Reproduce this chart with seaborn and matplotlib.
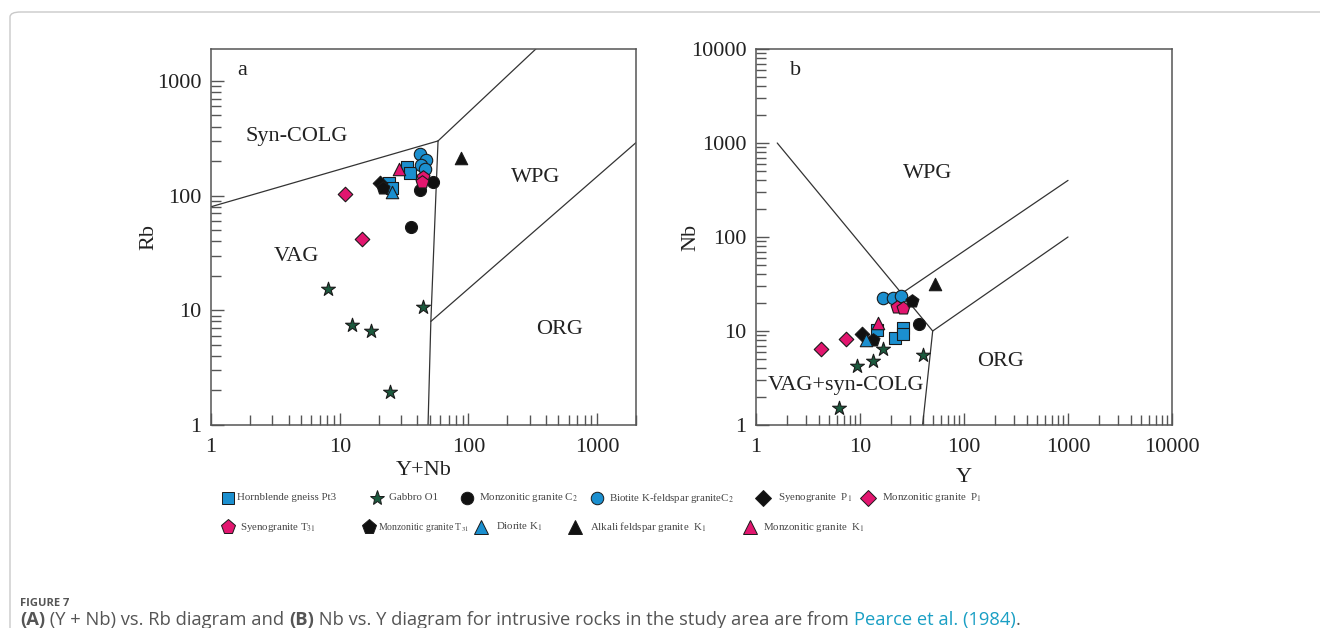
import numpy as np
import pandas as pd
import matplotlib
matplotlib.use("Agg")
import matplotlib.pyplot as plt
import seaborn as sns
from matplotlib.lines import Line2D
from matplotlib.patches import FancyBboxPatch
from matplotlib.ticker import LogLocator, FuncFormatter, NullFormatter

# ---------------- data ----------------
series_names = [
    "Hornblende gneiss Pt3", "Gabbro O1", "Monzonitic granite C$_2$",
    "Biotite K-feldspar graniteC$_2$", "Syenogranite  P$_1$", "Monzonitic granite  P$_1$",
    "Syenogranite T$_{31}$", "Monzonitic granite T$_{31}$", "Diorite K$_1$",
    "Alkali feldspar granite  K$_1$", "Monzonitic granite  K$_1$",
]
# panel a : (Y+Nb, Rb)
a_x = {
    0: [33, 35, 24, 25.5], 1: [8.1, 12.4, 17.5, 44, 24.7], 2: [36, 42, 53],
    3: [42, 47, 43, 46], 4: [20.6], 5: [10.9, 14.8], 6: [44.6, 43.4],
    7: [21.8], 8: [25.4], 9: [87], 10: [29],
}
a_y = {
    0: [179, 156, 128, 116], 1: [15.2, 7.5, 6.6, 10.7, 1.93], 2: [53, 112, 132],
    3: [232, 205, 185, 170], 4: [128], 5: [104, 41.6], 6: [146, 132],
    7: [116], 8: [108], 9: [214], 10: [170],
}
# panel b : (Y, Nb)
b_x = {
    0: [21.7, 25.7, 26, 14.5], 1: [16.8, 40, 13.4, 9.4, 6.3], 2: [37.2],
    3: [16.8, 20.9, 24.6], 4: [10.4], 5: [4.2, 7.3], 6: [22.5, 26],
    7: [13.2, 31.4], 8: [11.4], 9: [52.6], 10: [14.8],
}
b_y = {
    0: [8.5, 10.7, 9.4, 10.3], 1: [6.5, 5.6, 4.8, 4.2, 1.5], 2: [11.9],
    3: [22.3, 22.3, 23.6], 4: [9.4], 5: [6.5, 8.2], 6: [18.1, 17.4],
    7: [8.0, 20.8], 8: [8.0], 9: [31.6], 10: [12.3],
}
# discrimination boundaries (Pearce et al., 1984)
a_lines = [
    ([1, 58], [80, 300]),
    ([58, 350], [300, 2000]),
    ([58, 51, 48.5], [300, 8, 1]),
    ([51, 2000], [8, 290]),
]
b_lines = [
    ([1.6, 50, 1000], [1000, 10, 100]),
    ([25, 1000], [25, 400]),
    ([50, 40], [10, 1]),
]

# ---------------- styles ----------------
BLUE, PINK, GREEN, BLACK = "#1b8fcf", "#e2166f", "#1c5a3e", "#111111"
styles = [
    ("s", BLUE, 85), ("*", GREEN, 110), ("o", BLACK, 75), ("o", BLUE, 80),
    ("D", BLACK, 55), ("D", PINK, 55), ("p", PINK, 95), ("p", BLACK, 95),
    ("^", BLUE, 80), ("^", BLACK, 80), ("^", PINK, 80),
]

sns.set_theme(style="white")
plt.rcParams["font.family"] = ["Liberation Serif", "DejaVu Serif"]
plt.rcParams["mathtext.fontset"] = "stix"

W, H = 1320, 628
fig = plt.figure(figsize=(W / 100, H / 100), dpi=100)
fig.patch.set_facecolor("white")

# page frame
fig.add_artist(FancyBboxPatch((10 / W, -0.1), 1.2, 1 - 12 / H + 0.1,
                              boxstyle="round,pad=0,rounding_size=0.008",
                              transform=fig.transFigure, fill=False,
                              edgecolor="#c9c9c9", linewidth=1.0))

ax_a = fig.add_axes([211 / W, 1 - 425 / H, (636 - 211) / W, (425 - 49) / H])
ax_b = fig.add_axes([756 / W, 1 - 425 / H, (1172 - 756) / W, (425 - 49) / H])

fmt = FuncFormatter(lambda v, p: f"{int(round(v))}")

def style_axes(ax, xlim, ylim):
    ax.set_xscale("log"); ax.set_yscale("log")
    ax.set_xlim(*xlim); ax.set_ylim(*ylim)
    for s in ax.spines.values():
        s.set_color("#555555"); s.set_linewidth(1.1)
    ax.xaxis.set_major_locator(LogLocator(base=10, numticks=10))
    ax.yaxis.set_major_locator(LogLocator(base=10, numticks=10))
    ax.xaxis.set_minor_locator(LogLocator(base=10, subs=np.arange(2, 10), numticks=12))
    ax.yaxis.set_minor_locator(LogLocator(base=10, subs=np.arange(2, 10), numticks=12))
    ax.xaxis.set_major_formatter(fmt); ax.yaxis.set_major_formatter(fmt)
    ax.xaxis.set_minor_formatter(NullFormatter()); ax.yaxis.set_minor_formatter(NullFormatter())
    ax.tick_params(which="both", direction="in", top=False, right=False,
                   bottom=True, left=True, colors="#555555", width=1.0)
    ax.tick_params(which="major", length=9, labelsize=16, labelcolor="#222222")
    ax.tick_params(axis="x", which="major", pad=9)
    ax.tick_params(axis="y", which="major", pad=7)
    ax.tick_params(which="minor", length=7)
    ax.grid(False)

style_axes(ax_a, (1, 2000), (1, 1900))
style_axes(ax_b, (1, 10000), (1, 10000))

for xs, ys in a_lines:
    ax_a.plot(xs, ys, color="#333333", lw=0.9, zorder=1)
for xs, ys in b_lines:
    ax_b.plot(xs, ys, color="#333333", lw=0.9, zorder=1)

def scatter(ax, xd, yd):
    for i, name in enumerate(series_names):
        m, c, s = styles[i]
        df = pd.DataFrame({"x": xd[i], "y": yd[i]})
        sns.scatterplot(data=df, x="x", y="y", ax=ax, marker=m, color=c, s=s,
                        edgecolor="#1a1a1a", linewidth=0.8, legend=False, zorder=3)

scatter(ax_a, a_x, a_y)
scatter(ax_b, b_x, b_y)
ax_a.set_xlabel("Y+Nb", fontsize=16, color="#222222", labelpad=3)
ax_a.set_ylabel("Rb", fontsize=16, color="#222222", labelpad=-1.5)
ax_b.set_xlabel("Y", fontsize=16, color="#222222", labelpad=8)
ax_b.set_ylabel("Nb", fontsize=16, color="#222222", labelpad=-7)

lab = dict(fontsize=16, color="#222222", ha="center", va="center")
ax_a.text(0.073, 0.944, "a", transform=ax_a.transAxes, **lab)
ax_a.text(0.202, 0.766, "Syn-COLG", transform=ax_a.transAxes, **lab)
ax_a.text(0.765, 0.657, "WPG", transform=ax_a.transAxes, **lab)
ax_a.text(0.200, 0.447, "VAG", transform=ax_a.transAxes, **lab)
ax_a.text(0.821, 0.255, "ORG", transform=ax_a.transAxes, **lab)
ax_b.text(0.096, 0.944, "b", transform=ax_b.transAxes, **lab)
ax_b.text(0.413, 0.670, "WPG", transform=ax_b.transAxes, **lab)
ax_b.text(0.587, 0.170, "ORG", transform=ax_b.transAxes, **lab)
ax_b.text(0.216, 0.104, "VAG+syn-COLG", transform=ax_b.transAxes, **lab)

# ---------------- legend ----------------
leg_pos = [
    (228, 498, 237), (377, 498, 389), (467, 498, 479), (597, 498, 609),
    (763, 498, 778), (868, 498, 882),
    (228, 527, 240), (369, 527, 378), (481, 527, 496), (575, 527, 590),
    (750, 527, 763),
]
leg_ms = [9, 11, 9, 9, 8, 8, 11, 11, 10, 10, 10]
leg_fs = [7.8, 7.8, 7.8, 7.8, 7.8, 7.8, 7.8, 7.0, 7.8, 7.8, 7.8]
for i, name in enumerate(series_names):
    mx, my, tx = leg_pos[i]
    m, c, s = styles[i]
    fig.add_artist(Line2D([mx / W], [1 - my / H], marker=m, markersize=leg_ms[i],
                          color=c, markeredgecolor="#1a1a1a", markeredgewidth=0.7,
                          linestyle="none", transform=fig.transFigure))
    fig.text(tx / W, 1 - my / H, name, fontsize=leg_fs[i], color="#444444",
             ha="left", va="center")

# ---------------- caption ----------------
fig.text(20 / W, 1 - 603 / H, "FIGURE 7", fontsize=8, fontweight="bold",
         color="#555555", family="Open Sans", ha="left", va="center")
renderer = fig.canvas.get_renderer()
pieces = [
    ("(A)", "bold", "#555555"),
    (" (Y + Nb) vs. Rb diagram and ", "normal", "#555555"),
    ("(B)", "bold", "#555555"),
    (" Nb vs. Y diagram for intrusive rocks in the study area are from ", "normal", "#555555"),
    ("Pearce et al. (1984)", "normal", "#1a9fc4"),
    (".", "normal", "#555555"),
]
x = 20 / W
for txt, wgt, col in pieces:
    t = fig.text(x, 1 - 620 / H, txt, fontsize=13.2, fontweight=wgt, color=col,
                 family="Open Sans", ha="left", va="center")
    bb = t.get_window_extent(renderer=renderer)
    x += bb.width / fig.bbox.width

fig.savefig("out.png", dpi=100, facecolor="white")
